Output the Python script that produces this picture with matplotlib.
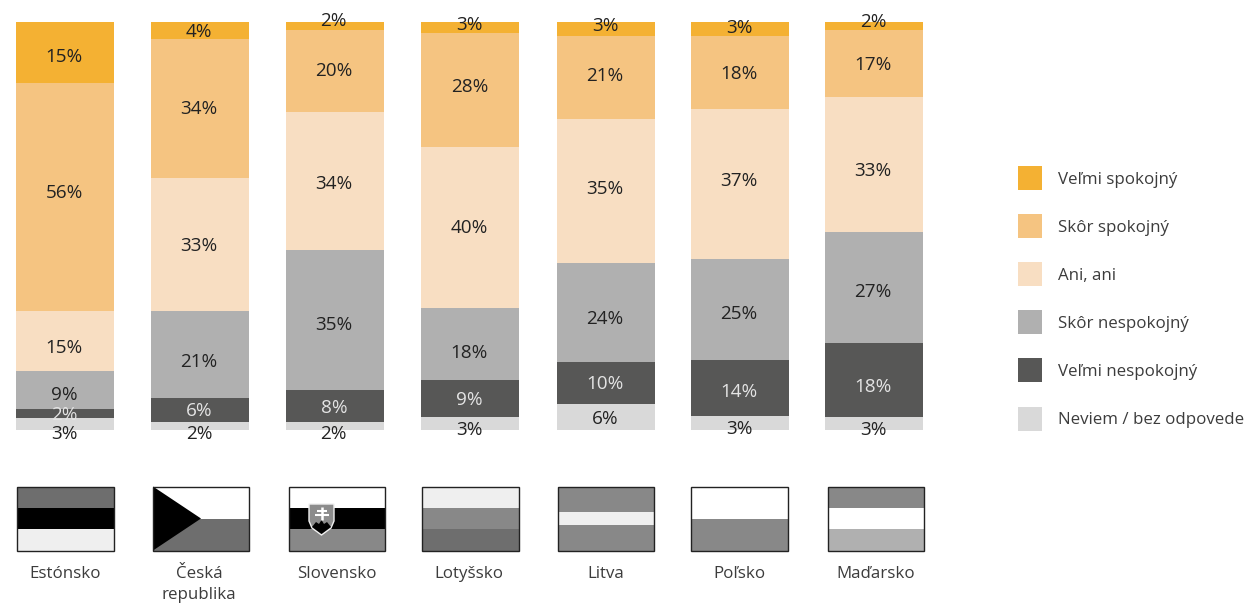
import matplotlib
matplotlib.use('Agg')
import matplotlib.pyplot as plt
from matplotlib.patches import Rectangle, Polygon
import numpy as np

plt.rcParams['font.family'] = ['Open Sans', 'DejaVu Sans']

# percent shares, one list per answer, country order as below
countries = ['Estónsko', 'Česká\nrepublika', 'Slovensko', 'Lotyšsko', 'Litva', 'Poľsko', 'Maďarsko']
neviem = [2.9, 2.0, 2.0, 3.2, 6.4, 3.4, 3.2]
velmi_nespokojny = [2.2, 5.9, 7.8, 9.1, 10.3, 13.7, 18.1]
skor_nespokojny = [9.3, 21.3, 34.3, 17.6, 24.3, 24.8, 27.2]
ani_ani = [14.7, 32.6, 33.8, 39.5, 35.3, 36.8, 33.1]
skor_spokojny = [55.9, 34.0, 20.1, 27.9, 20.3, 17.9, 16.4]
velmi_spokojny = [15.0, 4.2, 2.0, 2.7, 3.4, 3.4, 2.0]

# the numbers as printed in the chart
printed = [
    [3, 2, 2, 3, 6, 3, 3],
    [2, 6, 8, 9, 10, 14, 18],
    [9, 21, 35, 18, 24, 25, 27],
    [15, 33, 34, 40, 35, 37, 33],
    [56, 34, 20, 28, 21, 18, 17],
    [15, 4, 2, 3, 3, 3, 2],
]

series = [neviem, velmi_nespokojny, skor_nespokojny, ani_ani, skor_spokojny, velmi_spokojny]
colors = ['#d9d9d9', '#575756', '#b0b0b0', '#f8dec2', '#f5c481', '#f4b133']
names = ['Veľmi spokojný', 'Skôr spokojný', 'Ani, ani', 'Skôr nespokojný', 'Veľmi nespokojný', 'Neviem / bez odpovede']

# label shift from the segment middle, in pixels (down is positive), same order as series
nudge = [
    [9, 7, 7, 5, 1, 5, 5],
    [0, 0, 1, 0, 0, 3, 6],
    [3, 6, 4, 8, 5, 3, 3],
    [5, 0, 2, -1, -3, -4, 5],
    [-6, -1, -1, -4, -3, 0, 0],
    [3, 0, -6, -4, -4, -2, -5],
]
text_drop = 1.3

W, H = 1246, 603
fig = plt.figure(figsize=(W / 100, H / 100), dpi=100)

# chart axes sits exactly on the bar area
ax = fig.add_axes([16 / W, 1 - 430 / H, 907 / W, 408 / H])
pitch = 134.83
bar_w = 98 / pitch
# bars in the source are not quite evenly spaced
x = np.arange(len(countries)) + np.array([0, 0, 0, 0.7, 1.7, 0.7, 0]) / pitch
ax.set_xlim(-bar_w / 2, 6 + bar_w / 2)
ax.set_ylim(0, 100)
ax.axis('off')

bottom = np.zeros(len(countries))
for i, vals in enumerate(series):
    vals = np.array(vals)
    ax.bar(x, vals, bar_w, bottom=bottom, color=colors[i], linewidth=0)
    for j, v in enumerate(vals):
        txt_col = '#e4e4e4' if i == 1 else '#222222'
        ax.annotate('%d%%' % printed[i][j], (x[j], bottom[j] + v / 2),
                    xytext=(-0.6, -(nudge[i][j] + text_drop) * 0.72),
                    textcoords='offset points', ha='center', va='center',
                    fontsize=13.6, color=txt_col, annotation_clip=False)
    bottom += vals

# overlay in pixel coordinates for flags, names and legend
ov = fig.add_axes([0, 0, 1, 1])
ov.set_xlim(0, W)
ov.set_ylim(H, 0)
ov.axis('off')
ov.patch.set_alpha(0)

flag_x = [(17, 114), (153, 249), (289, 385), (422, 519), (558, 654), (691, 788), (828, 924)]
flag_stripes = [
    [(0, 1 / 3, '#6e6e6e'), (1 / 3, 2 / 3, '#000000'), (2 / 3, 1, '#efefef')],
    [(0, 0.5, '#ffffff'), (0.5, 1, '#6e6e6e')],
    [(0, 1 / 3, '#ffffff'), (1 / 3, 2 / 3, '#000000'), (2 / 3, 1, '#888888')],
    [(0, 1 / 3, '#efefef'), (1 / 3, 2 / 3, '#888888'), (2 / 3, 1, '#6e6e6e')],
    [(0, 0.4, '#888888'), (0.4, 0.6, '#efefef'), (0.6, 1, '#888888')],
    [(0, 0.5, '#ffffff'), (0.5, 1, '#888888')],
    [(0, 1 / 3, '#888888'), (1 / 3, 2 / 3, '#ffffff'), (2 / 3, 1, '#b0b0b0')],
]
fy0, fy1 = 486.5, 550.5
for (x0, x1), stripes in zip(flag_x, flag_stripes):
    for a, b, c in stripes:
        ov.add_patch(Rectangle((x0, fy0 + a * (fy1 - fy0)), x1 - x0, (b - a) * (fy1 - fy0), color=c, lw=0))

# czech triangle
cx0, cx1 = flag_x[1]
ov.add_patch(Polygon([(cx0, fy0), (cx0 + 0.5 * (cx1 - cx0), (fy0 + fy1) / 2), (cx0, fy1)], color='black', lw=0))

# slovak crest
shield = [(309, 504), (334, 504), (334, 521), (331, 528), (321.5, 535), (312, 528), (309, 521)]
ov.add_patch(Polygon(shield, facecolor='#8c8c8c', edgecolor='#f0f0f0', lw=1))
ov.add_patch(Polygon([(312, 527), (316, 522), (319, 524), (321.5, 520), (324, 524), (327, 522), (331, 527), (321.5, 534)],
                     color='black', lw=0))
ov.plot([321.5, 321.5], [507, 520], color='white', lw=1.8, solid_capstyle='butt')
ov.plot([316.5, 326.5], [510.5, 510.5], color='white', lw=1.5, solid_capstyle='butt')
ov.plot([314.5, 328.5], [515, 515], color='white', lw=1.5, solid_capstyle='butt')

for (x0, x1), stripes in zip(flag_x, flag_stripes):
    ov.add_patch(Rectangle((x0, fy0), x1 - x0, fy1 - fy0, fill=False, ec='#222222', lw=1))

# country names
name_x = [65, 199, 337, 469, 606, 739, 876]
for nx, c in zip(name_x, countries):
    ov.text(nx, 565.5, c, ha='center', va='top', fontsize=12.2, color='#3c3c3c', linespacing=1.48)

# legend
leg_y = [180, 228, 276, 324, 372, 421]
leg_colors = ['#f4b133', '#f5c481', '#f8dec2', '#b0b0b0', '#575756', '#d9d9d9']
for y, c, n in zip(leg_y, leg_colors, names):
    ov.add_patch(Rectangle((1018, y - 14), 24, 24, color=c, lw=0))
    ov.text(1058, y - 0.5, n, ha='left', va='center', fontsize=12.15, color='#3c3c3c')

fig.savefig('out.png', dpi=100)
